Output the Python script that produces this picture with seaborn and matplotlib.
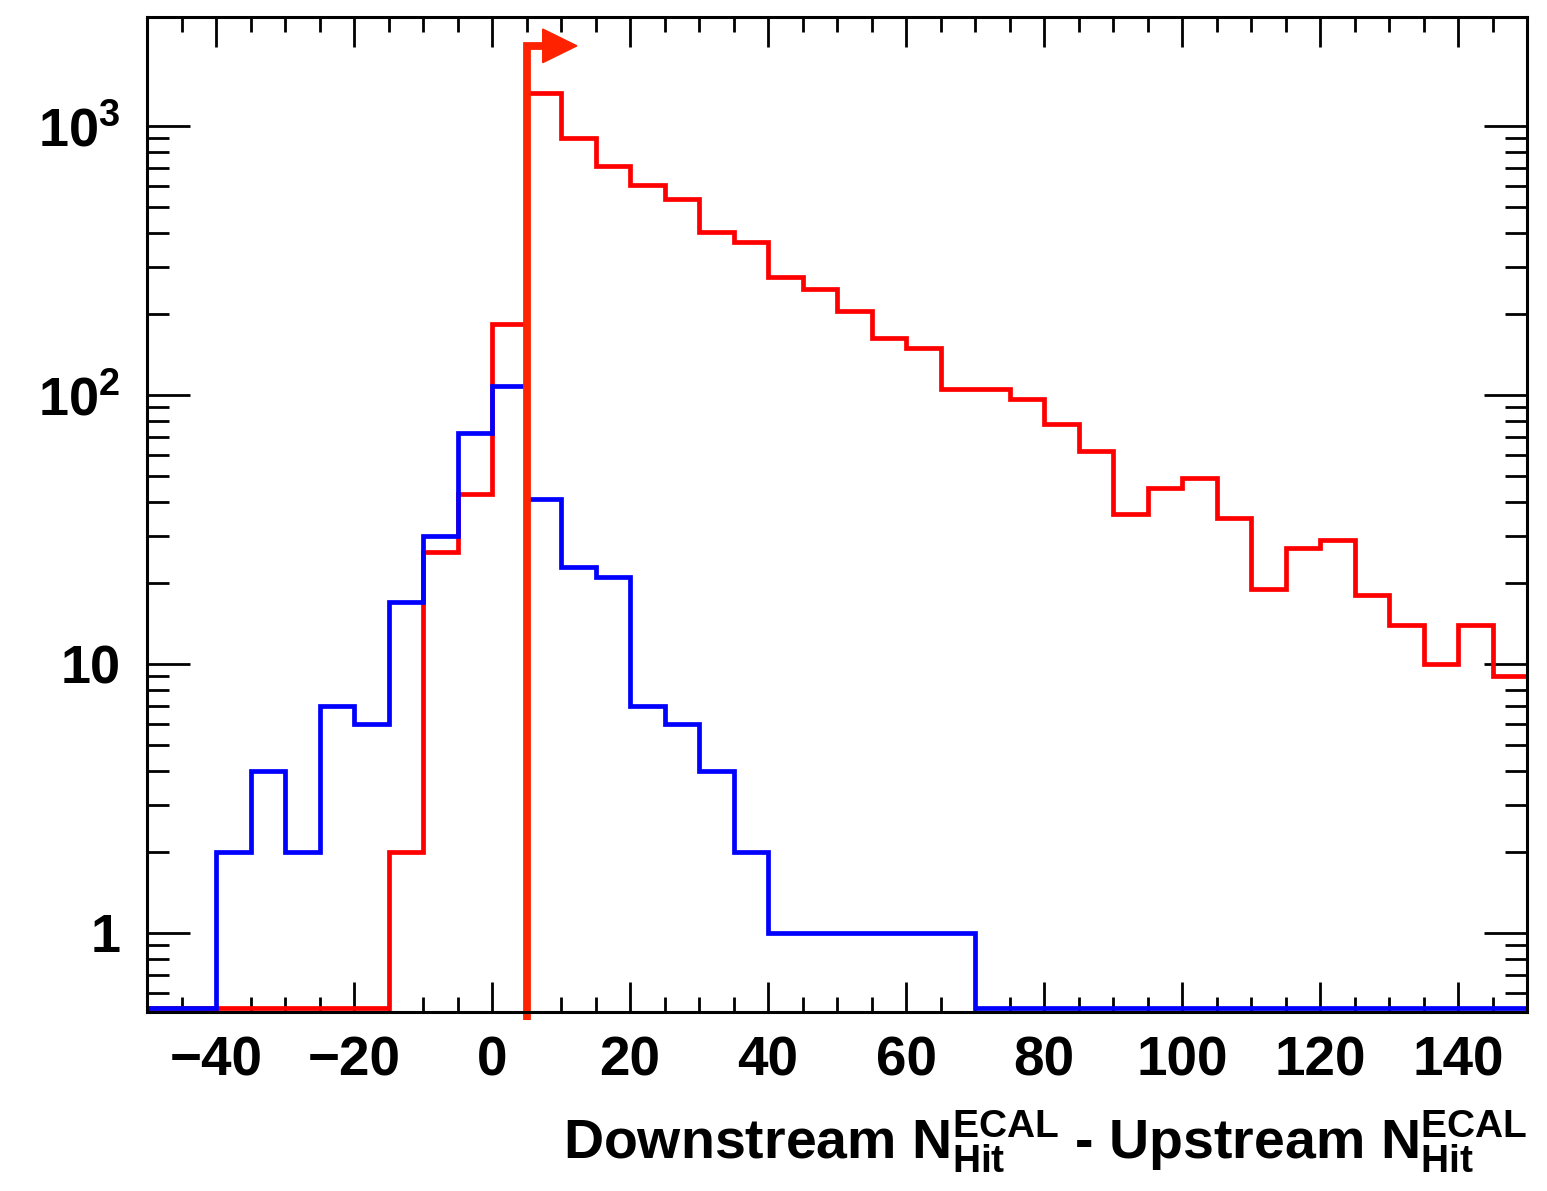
import numpy as np
import pandas as pd
import matplotlib
matplotlib.use("Agg")
import matplotlib.pyplot as plt
from matplotlib import ticker
from matplotlib.transforms import blended_transform_factory
from matplotlib.patches import Polygon
import seaborn as sns

# ---------------- data ----------------
bin_edges = list(range(-50, 155, 5))          # 40 bins of width 5
red_counts = [0, 0, 0, 0, 0, 0, 0,
              2, 26, 43, 184, 1327, 902, 710, 604, 535, 405, 371, 275, 247,
              205, 163, 149, 105, 105, 97, 78, 62, 36, 45, 49, 35, 19, 27,
              29, 18, 14, 10, 14, 9]
blue_counts = [0, 0, 2, 4, 2, 7, 6, 17, 30, 72, 108, 41, 23, 21, 7, 6, 4, 2,
               1, 1, 1, 1, 1, 1,
               0, 0, 0, 0, 0, 0, 0, 0, 0, 0, 0, 0, 0, 0, 0, 0]
cut_value = 5
x_ticks = [-40, -20, 0, 20, 40, 60, 80, 100, 120, 140]
y_ticks = [1, 10, 100, 1000]
y_tick_labels = ["1", "10", r"10$^{2}$", r"10$^{3}$"]
y_minor = [0.6, 0.7, 0.8, 0.9, 2, 3, 4, 5, 6, 7, 8, 9,
           20, 30, 40, 50, 60, 70, 80, 90, 200, 300, 400, 500, 600, 700, 800, 900]
x_label = (r"Downstream N$^{\mathrm{ECAL}}_{\mathrm{Hit}}$ - "
           r"Upstream N$^{\mathrm{ECAL}}_{\mathrm{Hit}}$")

# ---------------- style ----------------
sns.set_style("ticks")
plt.rcParams["font.family"] = ["Liberation Sans", "DejaVu Sans"]
plt.rcParams["font.weight"] = "bold"
plt.rcParams["mathtext.fontset"] = "custom"
plt.rcParams["mathtext.rm"] = "Liberation Sans:bold"
plt.rcParams["mathtext.bf"] = "Liberation Sans:bold"
plt.rcParams["mathtext.it"] = "Liberation Sans:bold"
plt.rcParams["mathtext.sf"] = "Liberation Sans:bold"
plt.rcParams["axes.unicode_minus"] = True
for key in ["text.color", "axes.labelcolor", "xtick.color", "ytick.color",
            "axes.edgecolor"]:
    plt.rcParams[key] = "black"

fig = plt.figure(figsize=(15.47, 11.91), dpi=100)
ax = fig.add_axes([147 / 1547, 1 - 1012 / 1191, 1380 / 1547, 995 / 1191])

edges = np.array(bin_edges, float)
centers = (edges[:-1] + edges[1:]) / 2
floor = 0.525  # empty bins drawn along the bottom edge (ROOT style)
df_red = pd.DataFrame({"x": centers,
                       "w": np.maximum(np.array(red_counts, float), floor)})
df_blue = pd.DataFrame({"x": centers,
                        "w": np.maximum(np.array(blue_counts, float), floor)})

line_kw = dict(element="step", fill=False, linewidth=3.4,
               solid_joinstyle="miter", solid_capstyle="butt")
sns.histplot(data=df_red, x="x", weights="w", bins=bin_edges,
             color="#ff0000", ax=ax, **line_kw)
sns.histplot(data=df_blue, x="x", weights="w", bins=bin_edges,
             color="#0000ff", ax=ax, **line_kw)

ax.set_yscale("log")
ax.set_xlim(-50, 150)
ax.set_ylim(0.5084, 2541)

# cut line with arrow
cut_color = "#ff2200"
tr = blended_transform_factory(ax.transData, ax.transAxes)
ax.plot([cut_value, cut_value, cut_value + 2.6], [-0.008, 0.971, 0.971],
        transform=tr, color=cut_color, lw=5.6, clip_on=False,
        solid_joinstyle="miter", solid_capstyle="butt", zorder=5)
ax.add_patch(Polygon([(cut_value + 2.35, 0.9879), (cut_value + 2.35, 0.9541),
                      (cut_value + 7.3, 0.971)], closed=True,
                     transform=tr, color=cut_color, clip_on=False, zorder=5))

# axes / ticks (ROOT look)
for s in ax.spines.values():
    s.set_linewidth(2.2)
    s.set_color("black")
    s.set_zorder(6)

ax.set_xticks(x_ticks)
ax.xaxis.set_minor_locator(ticker.MultipleLocator(5))
ax.set_yticks(y_ticks)
ax.set_yticklabels(y_tick_labels)
ax.yaxis.set_minor_locator(ticker.FixedLocator(y_minor))
ax.yaxis.set_minor_formatter(ticker.NullFormatter())

ax.tick_params(which="both", direction="in", top=True, right=True,
               width=2.0, color="black", labelcolor="black")
ax.tick_params(axis="x", which="major", length=21.6, pad=17, labelsize=39.5)
ax.tick_params(axis="x", which="minor", length=10.5)
ax.tick_params(axis="y", which="major", length=31, pad=19, labelsize=39)
ax.tick_params(axis="y", which="minor", length=16)
for lab in ax.get_xticklabels() + ax.get_yticklabels():
    lab.set_fontweight("bold")

ax.set_xlabel(x_label, loc="right", fontsize=40, fontweight="bold",
              labelpad=15, color="black")
ax.set_ylabel("")

fig.savefig("out.png", dpi=100)
